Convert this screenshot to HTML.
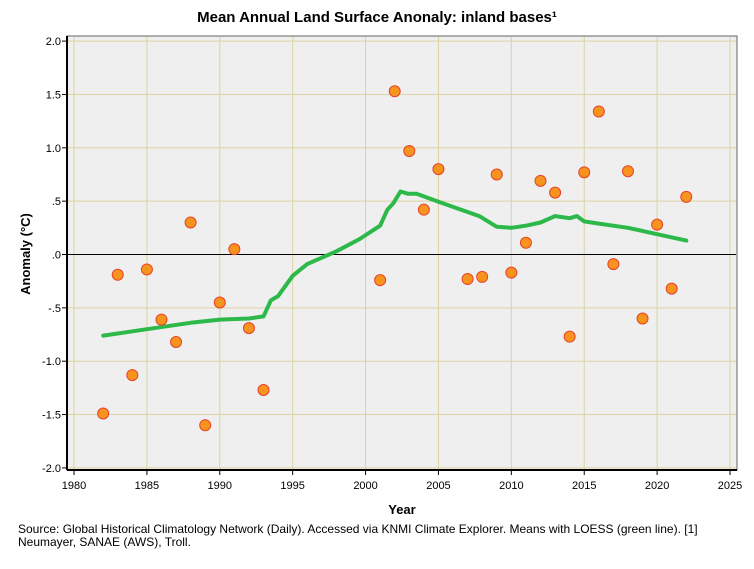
<!DOCTYPE html>
<html><head><meta charset="utf-8"><style>
body{margin:0;background:#fff;font-family:"Liberation Sans",sans-serif}
svg text{font-family:"Liberation Sans",sans-serif}
</style></head><body>
<svg id="chart" width="754" height="564" xmlns="http://www.w3.org/2000/svg">
<text x="377" y="22" text-anchor="middle" font-size="15" font-weight="bold">Mean Annual Land Surface Anonaly: inland bases¹</text>
<rect x="67" y="36" width="670" height="434" fill="#efefef" stroke="#666" stroke-width="1"/>
<g id="grid"></g>
<g id="axes"></g>
<g id="marks"></g>
<text transform="translate(30,254) rotate(-90)" text-anchor="middle" font-size="13" font-weight="bold">Anomaly (°C)</text>
<text x="402" y="514" text-anchor="middle" font-size="13" font-weight="bold">Year</text>
<text x="18" y="533" font-size="12">Source: Global Historical Climatology Network (Daily). Accessed via KNMI Climate Explorer. Means with LOESS (green line). [1]</text>
<text x="18" y="546" font-size="12">Neumayer, SANAE (AWS), Troll.</text>
</svg>
<script>
const xTicks=[1980,1985,1990,1995,2000,2005,2010,2015,2020,2025];
const yTicks=[2,1.5,1,0.5,0,-0.5,-1,-1.5,-2];
const yTickLabels=["2.0","1.5","1.0",".5",".0","-.5","-1.0","-1.5","-2.0"];
const years=[1982,1983,1984,1985,1986,1987,1988,1989,1990,1991,1992,1993,2001,2002,2003,2004,2005,2007,2008,2009,2010,2011,2012,2013,2014,2015,2016,2017,2018,2019,2020,2021,2022];
const anomalies=[-1.49,-0.19,-1.13,-0.14,-0.61,-0.82,0.30,-1.60,-0.45,0.05,-0.69,-1.27,-0.24,1.53,0.97,0.42,0.80,-0.23,-0.21,0.75,-0.17,0.11,0.69,0.58,-0.77,0.77,1.34,-0.09,0.78,-0.60,0.28,-0.32,0.54];
const loessYears=[1982,1985,1988,1990,1992,1993,1993.5,1994,1995,1996,1998,1999.6,2001,2001.5,2001.9,2002.4,2002.9,2003.5,2005.1,2007.8,2009,2010,2011,2012,2013,2014,2014.5,2015,2016,2018,2020,2022];
const loessValues=[-0.76,-0.70,-0.64,-0.61,-0.60,-0.58,-0.43,-0.39,-0.20,-0.09,0.03,0.145,0.27,0.42,0.48,0.59,0.57,0.57,0.49,0.36,0.26,0.25,0.27,0.30,0.36,0.34,0.36,0.31,0.29,0.25,0.19,0.13];
const X=y=>74+(y-1980)*14.578;
const Y=v=>254.5-v*106.7;
const NS="http://www.w3.org/2000/svg";
function mk(t,a,p){const e=document.createElementNS(NS,t);for(const k in a)e.setAttribute(k,a[k]);p.appendChild(e);return e;}
const grid=document.getElementById('grid'),axes=document.getElementById('axes'),marks=document.getElementById('marks');
xTicks.forEach(t=>{
 const g=mk('line',{x1:X(t),x2:X(t),y1:37,y2:469,stroke:'#dcd3a2','stroke-width':1},grid);
 
 
 mk('line',{x1:X(t),x2:X(t),y1:470,y2:475,stroke:'#000'},axes);
 const l=mk('text',{x:X(t),y:489,'text-anchor':'middle','font-size':11},axes);l.textContent=t;
 
 
});
yTicks.forEach((t,i)=>{
 const g=mk('line',{x1:68,x2:736,y1:Y(t),y2:Y(t),stroke:t===0?'#000':'#dcd3a2','stroke-width':1},grid);
 
 
 mk('line',{x1:62,x2:67,y1:Y(t),y2:Y(t),stroke:'#000'},axes);
 const l=mk('text',{x:61,y:Y(t)+4,'text-anchor':'end','font-size':11},axes);l.textContent=yTickLabels[i];
 
 
});
mk('line',{x1:67,x2:67,y1:36,y2:470,stroke:'#000','stroke-width':2},axes);
mk('line',{x1:67,x2:737,y1:470,y2:470,stroke:'#000','stroke-width':2},axes);
const pts=loessYears.map((y,i)=>X(y).toFixed(1)+','+Y(loessValues[i]).toFixed(1)).join(' ');
const pl=mk('polyline',{points:pts,fill:'none',stroke:'#2db84a','stroke-width':4,'stroke-linejoin':'round','stroke-linecap':'round'},marks);


years.forEach((y,i)=>{
 const c=mk('circle',{cx:X(y),cy:Y(anomalies[i]),r:5.5,fill:'#f7941d',stroke:'#e8412c','stroke-width':1},marks);
 
 
});
</script>
</body></html>
